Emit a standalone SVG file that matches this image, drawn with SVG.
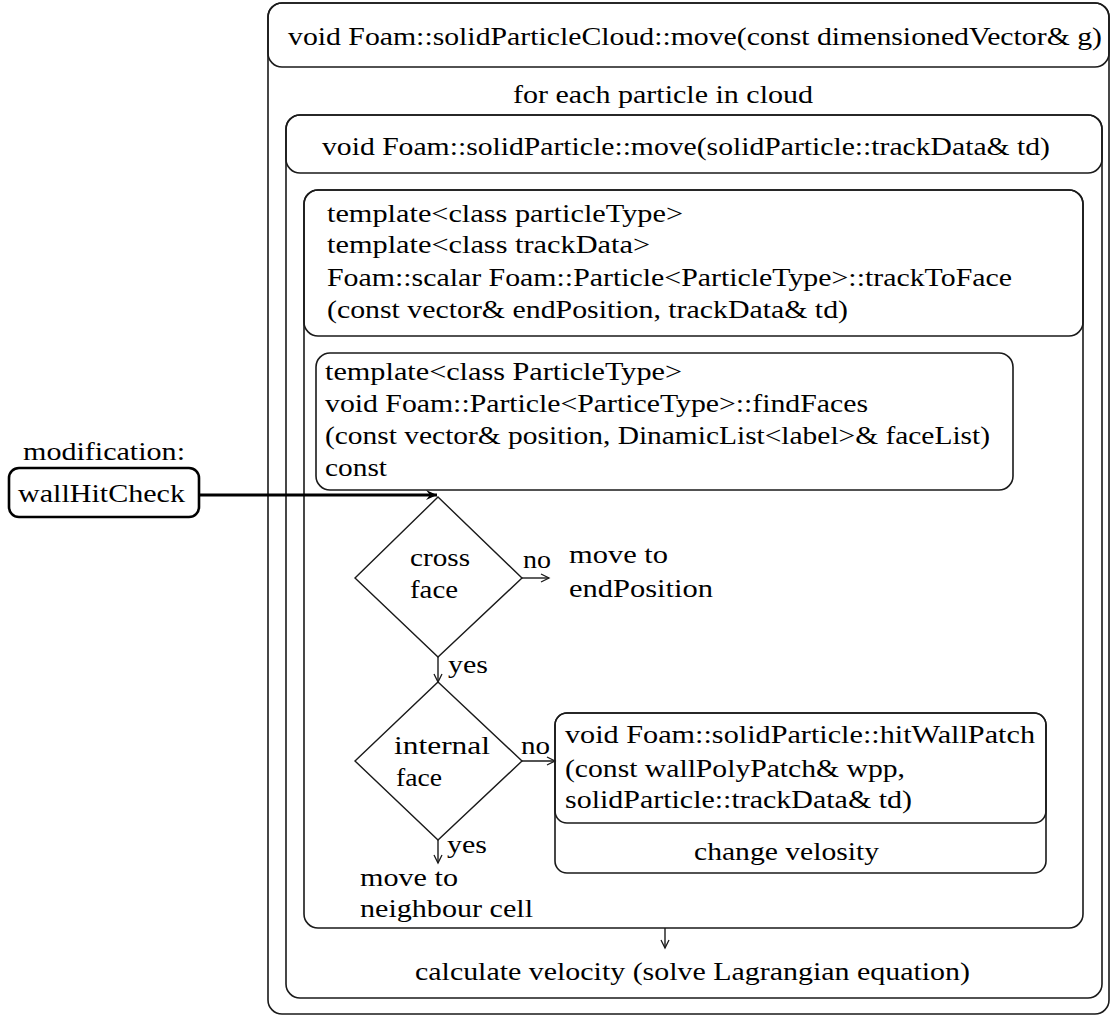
<svg xmlns="http://www.w3.org/2000/svg" width="1112" height="1016" viewBox="0 0 1112 1016">
<style>
  .box { fill: none; stroke: #1a1a1a; stroke-width: 1.6; }
  .t { font-family: "Liberation Serif", "DejaVu Serif", serif; font-size: 25px; fill: #000; }
  .c { stroke: #1a1a1a; stroke-width: 1.4; fill: none; }
  .bold { stroke: #000; stroke-width: 3; fill: none; }
</style>
<defs>
  <marker id="open" markerUnits="userSpaceOnUse" markerWidth="12" markerHeight="12" refX="9" refY="5" orient="auto">
    <polyline points="1,1 9,5 1,9" fill="none" stroke="#1a1a1a" stroke-width="1.3"/>
  </marker>
  <marker id="bolda" markerUnits="userSpaceOnUse" markerWidth="14" markerHeight="14" refX="11" refY="6" orient="auto">
    <polygon points="0,1 11,6 0,11 4,6" fill="#000"/>
  </marker>
</defs>
<rect width="1112" height="1016" fill="#fff"/>

<g id="cloudMove">
  <rect class="box" x="268" y="3" width="841" height="1011" rx="14"/>
  <rect class="box" x="268" y="3" width="841" height="64" rx="14"/>
  <text class="t" x="288" y="45" textLength="814" lengthAdjust="spacingAndGlyphs">void Foam::solidParticleCloud::move(const dimensionedVector&amp; g)</text>
</g>

<g id="forEach">
  <text class="t" x="513" y="103" textLength="300" lengthAdjust="spacingAndGlyphs">for each particle in cloud</text>
</g>

<g id="particleMove">
  <rect class="box" x="286" y="115" width="816" height="883" rx="14"/>
  <rect class="box" x="286" y="115" width="816" height="58" rx="14"/>
  <text class="t" x="322" y="155" textLength="728" lengthAdjust="spacingAndGlyphs">void Foam::solidParticle::move(solidParticle::trackData&amp; td)</text>
</g>

<g id="trackToFace">
  <rect class="box" x="304" y="190" width="779" height="738" rx="14"/>
  <rect class="box" x="304" y="190" width="779" height="146" rx="14"/>
  <text class="t" x="327" y="222" textLength="356" lengthAdjust="spacingAndGlyphs">template&lt;class particleType&gt;</text>
  <text class="t" x="327" y="253" textLength="323" lengthAdjust="spacingAndGlyphs">template&lt;class trackData&gt;</text>
  <text class="t" x="327" y="286" textLength="685" lengthAdjust="spacingAndGlyphs">Foam::scalar Foam::Particle&lt;ParticleType&gt;::trackToFace</text>
  <text class="t" x="327" y="318" textLength="521" lengthAdjust="spacingAndGlyphs">(const vector&amp; endPosition, trackData&amp; td)</text>
</g>

<g id="findFaces">
  <rect class="box" x="316" y="353" width="697" height="137" rx="14"/>
  <text class="t" x="325" y="380" textLength="357" lengthAdjust="spacingAndGlyphs">template&lt;class ParticleType&gt;</text>
  <text class="t" x="325" y="412" textLength="543" lengthAdjust="spacingAndGlyphs">void Foam::Particle&lt;ParticeType&gt;::findFaces</text>
  <text class="t" x="325" y="444" textLength="665" lengthAdjust="spacingAndGlyphs">(const vector&amp; position, DinamicList&lt;label&gt;&amp; faceList)</text>
  <text class="t" x="325" y="476" textLength="62" lengthAdjust="spacingAndGlyphs">const</text>
</g>

<g id="wallHitCheck">
  <text class="t" x="23" y="460" textLength="162" lengthAdjust="spacingAndGlyphs">modification:</text>
  <rect x="9" y="468" width="190" height="49" rx="10" fill="none" stroke="#000" stroke-width="2.6"/>
  <text class="t" x="18" y="502" textLength="167" lengthAdjust="spacingAndGlyphs">wallHitCheck</text>
</g>

<g id="crossFace">
  <polygon class="c" points="438,497 522,578 438,657 355,578"/>
  <text class="t" x="410" y="566" textLength="60" lengthAdjust="spacingAndGlyphs">cross</text>
  <text class="t" x="410" y="598" textLength="48" lengthAdjust="spacingAndGlyphs">face</text>
</g>

<g id="moveToEnd">
  <text class="t" x="569" y="563" textLength="99" lengthAdjust="spacingAndGlyphs">move to</text>
  <text class="t" x="569" y="597" textLength="144" lengthAdjust="spacingAndGlyphs">endPosition</text>
</g>

<g id="internalFace">
  <polygon class="c" points="438,682 522,761 438,840 355,761"/>
  <text class="t" x="394" y="754" textLength="96" lengthAdjust="spacingAndGlyphs">internal</text>
  <text class="t" x="396" y="786" textLength="46" lengthAdjust="spacingAndGlyphs">face</text>
</g>

<g id="hitWallPatch">
  <rect class="box" x="555" y="713" width="491" height="160" rx="12"/>
  <rect class="box" x="555" y="713" width="491" height="110" rx="12"/>
  <text class="t" x="565" y="743" textLength="470" lengthAdjust="spacingAndGlyphs">void Foam::solidParticle::hitWallPatch</text>
  <text class="t" x="565" y="777" textLength="340" lengthAdjust="spacingAndGlyphs">(const wallPolyPatch&amp; wpp,</text>
  <text class="t" x="565" y="808" textLength="347" lengthAdjust="spacingAndGlyphs">solidParticle::trackData&amp; td)</text>
  <text class="t" x="694" y="860" textLength="185" lengthAdjust="spacingAndGlyphs">change velosity</text>
</g>

<g id="moveToNeighbour">
  <text class="t" x="360" y="886" textLength="98" lengthAdjust="spacingAndGlyphs">move to</text>
  <text class="t" x="360" y="917" textLength="173" lengthAdjust="spacingAndGlyphs">neighbour cell</text>
</g>

<g id="calcVelocity">
  <text class="t" x="415" y="980" textLength="555" lengthAdjust="spacingAndGlyphs">calculate velocity (solve Lagrangian equation)</text>
</g>

<g id="connectors">
  <line class="bold" x1="199" y1="495" x2="437" y2="495" marker-end="url(#bolda)"/>
  <line class="c" x1="522" y1="578" x2="549" y2="578" marker-end="url(#open)"/>
  <text class="t" x="523" y="568" textLength="28" lengthAdjust="spacingAndGlyphs">no</text>
  <line class="c" x1="438" y1="657" x2="438" y2="682" marker-end="url(#open)"/>
  <text class="t" x="448" y="673" textLength="40" lengthAdjust="spacingAndGlyphs">yes</text>
  <line class="c" x1="522" y1="761" x2="555" y2="761" marker-end="url(#open)"/>
  <text class="t" x="521" y="754" textLength="29" lengthAdjust="spacingAndGlyphs">no</text>
  <line class="c" x1="438" y1="840" x2="438" y2="863" marker-end="url(#open)"/>
  <text class="t" x="447" y="853" textLength="40" lengthAdjust="spacingAndGlyphs">yes</text>
  <line class="c" x1="665" y1="928" x2="665" y2="948" marker-end="url(#open)"/>
</g>
</svg>
